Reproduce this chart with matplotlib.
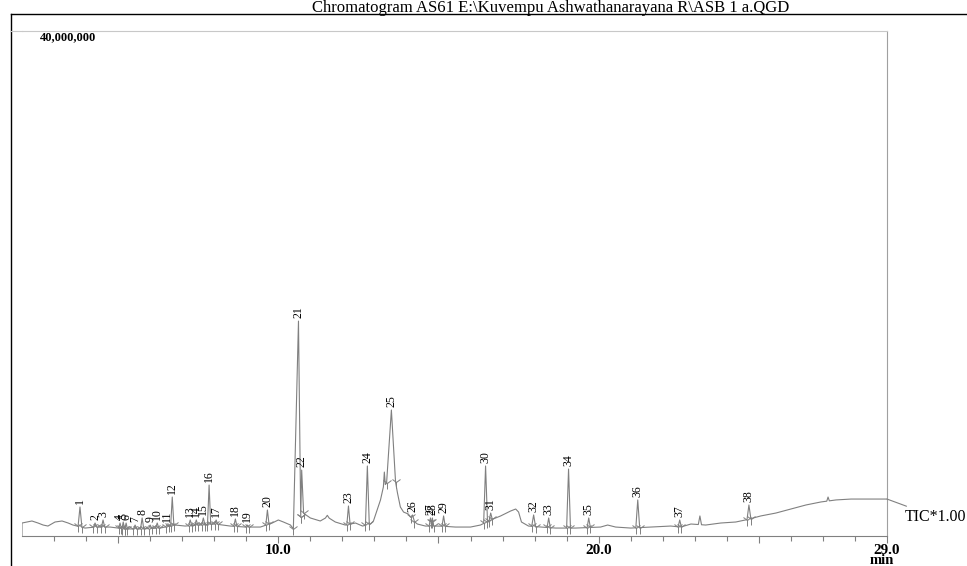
import numpy as np
import matplotlib
matplotlib.use("Agg")
import matplotlib.pyplot as plt
from matplotlib.lines import Line2D

# ---------------- data ----------------
title = r"Chromatogram AS61 E:\Kuvempu Ashwathanarayana R\ASB 1 a.QGD"
y_max_label = "40,000,000"
trace_label = "TIC*1.00"
x_unit = "min"

# baseline of the TIC trace (time in min, intensity in millions of counts)
baseline_t = [2.00, 2.15, 2.31, 2.50, 2.66, 2.81, 3.03, 3.25, 3.44, 3.59, 3.97, 4.28,
              4.75, 5.22, 5.69, 6.31, 6.78, 7.09, 7.56, 8.03, 8.50, 8.97, 9.44, 9.81,
              10.00, 10.16, 10.38, 10.47, 10.78, 11.00, 11.31, 11.53, 11.78, 12.09,
              12.41, 12.63, 12.88, 12.97, 13.19, 13.28, 13.38, 13.66, 13.72, 13.81,
              13.91, 14.06, 14.19, 14.34, 14.59, 15.06, 15.53, 16.00, 16.31, 16.63,
              16.94, 17.25, 17.41, 17.50, 17.59, 17.81, 18.19, 18.66, 19.28, 20.06,
              20.28, 20.53, 21.00, 21.63, 22.25, 22.56, 22.88, 23.34, 23.81, 24.28,
              24.59, 25.06, 25.53, 26.00, 26.47, 26.94, 27.41, 27.88, 28.50, 29.00]
baseline_v = [0.99, 1.07, 1.15, 0.99, 0.83, 0.75, 1.07, 1.15, 0.99, 0.83, 0.59, 0.67,
              0.67, 0.52, 0.52, 0.59, 0.83, 0.75, 0.83, 0.91, 0.75, 0.67, 0.67, 0.99,
              1.23, 1.07, 0.83, 0.52, 1.78, 1.39, 1.15, 1.47, 1.07, 0.83,
              0.99, 0.75, 0.91, 1.15, 2.82, 3.85, 4.16, 4.24, 3.37, 2.26,
              1.86, 1.70, 1.23, 0.91, 0.75, 0.75, 0.67, 0.67, 0.83, 1.23,
              1.55, 1.94, 2.10, 1.86, 1.07, 0.75, 0.67, 0.59, 0.59, 0.67,
              0.83, 0.67, 0.59, 0.67, 0.75, 0.67, 0.91, 0.83, 0.99, 1.07,
              1.23, 1.55, 1.78, 2.10, 2.42, 2.66, 2.82, 2.89, 2.89, 2.89]

# labelled peaks: number, retention time (min), apex intensity (millions),
# left / right half widths (min)
peak_ids = list(range(1, 39))
peak_t = [3.81, 4.28, 4.53, 5.06, 5.16, 5.25, 5.53, 5.75, 6.00, 6.22, 6.53, 6.69,
          7.25, 7.44, 7.66, 7.84, 8.06, 8.66, 9.03, 9.66, 10.63, 10.73, 12.19, 12.78,
          13.53, 14.19, 14.75, 14.81, 15.16, 16.47, 16.63, 17.97, 18.44, 19.06, 19.69,
          21.22, 22.53, 24.69]
peak_v = [2.26, 0.99, 1.23, 0.99, 1.07, 0.99, 0.83, 1.39, 0.83, 0.99, 0.83, 3.05,
          1.23, 1.23, 1.39, 4.00, 1.23, 1.31, 0.83, 2.02, 17.0, 5.19, 2.34, 5.51,
          9.95, 1.63, 1.39, 1.39, 1.55, 5.51, 1.78, 1.63, 1.39, 5.27, 1.39,
          2.82, 1.23, 2.42]
peak_wl = [0.06, 0.05, 0.05, 0.04, 0.04, 0.04, 0.05, 0.05, 0.05, 0.05, 0.05, 0.05,
           0.05, 0.05, 0.05, 0.05, 0.05, 0.05, 0.05, 0.05, 0.16, 0.03, 0.05, 0.06,
           0.15, 0.06, 0.04, 0.04, 0.05, 0.06, 0.05, 0.06, 0.05, 0.06, 0.05,
           0.06, 0.05, 0.06]
peak_wr = [0.06, 0.05, 0.05, 0.04, 0.04, 0.04, 0.05, 0.05, 0.05, 0.05, 0.05, 0.05,
           0.05, 0.05, 0.05, 0.05, 0.05, 0.05, 0.05, 0.05, 0.07, 0.06, 0.05, 0.06,
           0.13, 0.06, 0.04, 0.04, 0.05, 0.06, 0.05, 0.06, 0.05, 0.06, 0.05,
           0.06, 0.05, 0.06]

# small unlabelled spikes
spike_t = [13.31, 23.16, 27.16, 11.53]
spike_v = [5.03, 1.55, 3.05, 1.60]
spike_w = [0.03, 0.05, 0.04, 0.06]

# axis ticks
major_ticks = [5, 10, 15, 20, 25, 29]
major_labels = ["", "10.0", "", "20.0", "", "29.0"]
minor_ticks = list(range(3, 29))
x_range = (2.0, 29.0)
y_range = (0.0, 40.0)

# ---------------- build trace ----------------
bt = np.array(baseline_t)
bv = np.array(baseline_v)

def base(t):
    return np.interp(t, bt, bv)

tri = []
for t, v, wl, wr in zip(peak_t, peak_v, peak_wl, peak_wr):
    tri.append((t - wl, t, t + wr, v))
for t, v, w in zip(spike_t, spike_v, spike_w):
    tri.append((t - w, t, t + w, v))

grid = set(baseline_t)
for a, c, b, v in tri:
    grid.update([a, c, b])
grid = np.array(sorted(grid))
trace = base(grid)
for a, c, b, v in tri:
    ya, yb = base(a), base(b)
    tv = np.interp(grid, [a, c, b], [ya, v, yb], left=-1, right=-1)
    trace = np.maximum(trace, tv)

def trace_at(t):
    return np.interp(t, grid, trace)

# ---------------- draw ----------------
W, H = 967, 566
fig = plt.figure(figsize=(W / 100, H / 100), dpi=100)
ax = fig.add_axes([22 / W, (H - 535.5) / H, (887 - 22) / W, (535.5 - 31) / H])
ax.set_xlim(*x_range)
ax.set_ylim(*y_range)

serif = ["Liberation Serif", "DejaVu Serif"]
gray = "#808080"

ax.plot(np.r_[grid[0], grid], np.r_[0, trace], color=gray, lw=0.8)

# integration marks at peak starts / ends
mt, mv = [], []
for t, wl, wr in zip(peak_t, peak_wl, peak_wr):
    for x in (t - wl, t + wr):
        mt.append(x)
        mv.append(trace_at(x))
ax.plot(mt, mv, linestyle="none", marker="1", markersize=8, color=gray,
        markeredgewidth=0.7)

for pid, t, v in zip(peak_ids, peak_t, peak_v):
    ax.annotate(str(pid), xy=(t, v), xytext=(0, 2), textcoords="offset points",
                rotation=90, ha="center", va="bottom", fontsize=8.5,
                family=serif, color="black")

ax.spines["left"].set_visible(False)
ax.spines["top"].set_color("#c8c8c8")
ax.spines["right"].set_color("#a0a0a0")
ax.spines["bottom"].set_color(gray)
for s in ax.spines.values():
    s.set_linewidth(0.8)

ax.set_yticks([])
ax.set_xticks(major_ticks)
ax.set_xticklabels(major_labels, fontsize=11, fontweight="bold", family=serif)
ax.set_xticks(minor_ticks, minor=True)
ax.tick_params(axis="x", which="major", length=5, width=0.8, color=gray, pad=1)
ax.tick_params(axis="x", which="minor", length=3.6, width=0.8, color=gray)

fig.text(882 / W, 1 - 560 / H, x_unit, ha="center", va="center", fontsize=10.5,
         fontweight="bold", family=serif)
fig.text(40 / W, 1 - 37 / H, y_max_label, ha="left", va="center", fontsize=9,
         fontweight="bold", family=serif)
fig.text(551 / W, 1 - 8 / H, title, ha="center", va="center", fontsize=12,
         family=serif)

ax.annotate(trace_label, xy=(grid[-1], trace[-1]), xycoords="data",
            xytext=(905 / W, 1 - 517 / H), textcoords="figure fraction",
            ha="left", va="center", fontsize=11.5, family=serif,
            annotation_clip=False,
            arrowprops=dict(arrowstyle="-", color=gray, lw=0.8,
                            shrinkA=0, shrinkB=0))

# outer frame
fig.add_artist(Line2D([11 / W, 11 / W], [1 - 14 / H, 0], color="black", lw=1,
                      transform=fig.transFigure))
fig.add_artist(Line2D([11 / W, 1], [1 - 14 / H, 1 - 14 / H], color="black", lw=1,
                      transform=fig.transFigure))
fig.add_artist(Line2D([11 / W, 22 / W], [1 - 31 / H, 1 - 31 / H], color="#c8c8c8",
                      lw=0.8, transform=fig.transFigure))

fig.savefig("out.png", dpi=100)
